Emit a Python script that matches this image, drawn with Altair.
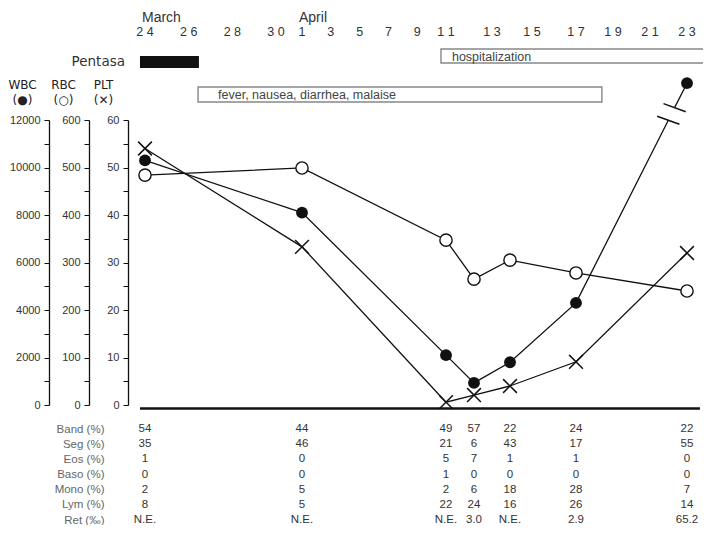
import altair as alt
import pandas as pd

FONT = "Liberation Sans"
FONT2 = "DejaVu Sans"
INK = "#111111"

# ---- data (x = days since March 24) ----
sample_days = [0, 8, 18, 19, 21, 24, 30]
wbc = [10300, 8100, 2100, 930, 1800, 4300]          # WBC /uL (first six samples)
wbc_last_plotted = 13550                             # last WBC, drawn above the axis break
rbc = [484, 499, 347, 265, 305, 278, 240]            # RBC x10^4
plt_vals = [54, 33.3, 0.6, 2.1, 4.0, 9.1, 32]        # PLT x10^4
wbc_break_days = [28.99, 29.33]
wbc_break_vals = [11990, 12520]

table_rows = ["Band (%)", "Seg (%)", "Eos (%)", "Baso (%)", "Mono (%)", "Lym (%)", "Ret (‰)"]
band = ["54", "44", "49", "57", "22", "24", "22"]
seg = ["35", "46", "21", "6", "43", "17", "55"]
eos = ["1", "0", "5", "7", "1", "1", "0"]
baso = ["0", "0", "1", "0", "0", "0", "0"]
mono = ["2", "5", "2", "6", "18", "28", "7"]
lym = ["8", "5", "22", "24", "16", "26", "14"]
ret = ["N.E.", "N.E.", "N.E.", "3.0", "N.E.", "2.9", "65.2"]

date_ticks = list(range(0, 31, 2))
date_labels = ["24", "26", "28", "30", "1", "3", "5", "7", "9", "11", "13", "15", "17", "19", "21", "23"]
months = ["March", "April"]
month_days = [0, 8]

pentasa = [-0.23, 2.47]
hospitalization = [17.65, 32]
symptoms = [2.43, 25.4]
baseline = [-0.23, 30.7]

# ---- scales (the date axis of the figure is not uniform) ----
X = alt.Scale(domain=[0, 6, 8, 18, 19, 21, 24, 30],
              range=[17, 148, 174, 318, 346, 382, 448, 559], nice=False)
YR = [397, 112]
S_WBC = alt.Scale(domain=[0, 12000], range=YR, nice=False, zero=False)
S_RBC = alt.Scale(domain=[0, 600], range=YR, nice=False, zero=False)
S_PLT = alt.Scale(domain=[0, 60], range=YR, nice=False, zero=False)


def xq(field):
    return alt.X(field, type="quantitative", scale=X, axis=None)


def val_axis(offset, top, step, label_step, title, title_x):
    return alt.Axis(
        orient="left", offset=offset, grid=False,
        values=list(range(0, top + 1, step)),
        labelExpr=f"datum.value % {label_step} === 0 ? datum.label : ''",
        format="d", domainColor=INK, domainWidth=1.3, tickColor=INK, tickWidth=1,
        tickSize=5, labelPadding=4, labelFontSize=11, labelColor="#333", labelFont=FONT,
        title=title, titleAngle=0, titleAlign="center", titleBaseline="top",
        titleX=title_x, titleY=71, titleFontSize=12, titleFontWeight="normal",
        titleFont=FONT2, titleColor="#222", titleLineHeight=15,
    )


# ---- WBC ----
wbc_line_df = pd.DataFrame({
    "day": sample_days[:6] + [wbc_break_days[0]] + [wbc_break_days[1], sample_days[6]],
    "val": wbc + [wbc_break_vals[0]] + [wbc_break_vals[1], wbc_last_plotted],
    "seg": ["a"] * 7 + ["b"] * 2,
})
wbc_pts_df = pd.DataFrame({"day": sample_days, "val": wbc + [wbc_last_plotted]})
wbc_break_df = pd.DataFrame({"day": wbc_break_days, "val": wbc_break_vals})

wbc_line = alt.Chart(wbc_line_df).mark_line(color=INK, strokeWidth=1.3).encode(
    x=xq("day"), y=alt.Y("val:Q", scale=S_WBC, axis=None), detail="seg:N")
wbc_break = alt.Chart(wbc_break_df).mark_point(
    shape="M-1,0L1,0", size=560, angle=20, strokeWidth=1.5, color=INK, opacity=1).encode(
    x=xq("day"), y=alt.Y("val:Q", scale=S_WBC, axis=None))
wbc_pts = alt.Chart(wbc_pts_df).mark_point(
    shape="circle", filled=True, size=140, color=INK, opacity=1).encode(
    x=xq("day"), y=alt.Y("val:Q", scale=S_WBC,
                         axis=val_axis(79, 12000, 1000, 2000, ["WBC", "(●)"], -27)))

# ---- RBC ----
rbc_df = pd.DataFrame({"day": sample_days, "val": rbc})
rbc_line = alt.Chart(rbc_df).mark_line(color=INK, strokeWidth=1.3).encode(
    x=xq("day"), y=alt.Y("val:Q", scale=S_RBC, axis=None))
rbc_pts = alt.Chart(rbc_df).mark_point(
    shape="circle", filled=True, fill="white", stroke=INK, strokeWidth=1.4,
    size=150, opacity=1).encode(
    x=xq("day"), y=alt.Y("val:Q", scale=S_RBC,
                         axis=val_axis(39, 600, 50, 100, ["RBC", "(○)"], -26)))

# ---- PLT ----
plt_df = pd.DataFrame({"day": sample_days, "val": plt_vals})
plt_line = alt.Chart(plt_df).mark_line(color=INK, strokeWidth=1.3).encode(
    x=xq("day"), y=alt.Y("val:Q", scale=S_PLT, axis=None))
plt_pts = alt.Chart(plt_df).mark_point(
    shape="M-1,-1L1,1M1,-1L-1,1", size=190, strokeWidth=1.5, color=INK,
    filled=False, opacity=1).encode(
    x=xq("day"), y=alt.Y("val:Q", scale=S_PLT,
                         axis=val_axis(0, 60, 5, 10, ["PLT", "(✕)"], -25)))

# ---- baseline ----
base_df = pd.DataFrame({"x": [baseline[0]], "x2": [baseline[1]], "y": [0]})
base_rule = alt.Chart(base_df).mark_rule(color=INK, strokeWidth=2.6, yOffset=3.5).encode(
    x=xq("x"), x2="x2", y=alt.Y("y:Q", scale=S_WBC, axis=None))

# ---- table ----
cols = [band, seg, eos, baso, mono, lym, ret]
tab = []
for r, vals in zip(table_rows, cols):
    for d, v in zip(sample_days, vals):
        tab.append({"row": r, "day": d, "t": v})
tab_df = pd.DataFrame(tab)
table = alt.Chart(tab_df).mark_text(font=FONT, fontSize=11.5, color="#333").encode(
    x=xq("day"),
    y=alt.Y("row:N", sort=table_rows,
            scale=alt.Scale(type="point", domain=table_rows, range=[421, 512], padding=0),
            axis=alt.Axis(orient="left", offset=24, domain=False, ticks=False, tickSize=0,
                          labelPadding=0, labelFontSize=11.5, labelColor="#666",
                          labelFont=FONT, title=None, grid=False)),
    text="t:N")

# ---- header ----
month_df = pd.DataFrame({"day": month_days, "t": months})
month_txt = alt.Chart(month_df).mark_text(
    font=FONT, fontSize=14, color="#333", align="left", dx=-3).encode(
    x=xq("day"), y=alt.value(10), text="t:N")

date_df = pd.DataFrame({"day": date_ticks, "t": [" ".join(s) for s in date_labels]})
date_txt = alt.Chart(date_df).mark_text(
    font=FONT, fontSize=12.5, color="#333", align="center").encode(
    x=xq("day"), y=alt.value(24), text="t:N")

pent_df = pd.DataFrame({"s": [pentasa[0]], "e": [pentasa[1]], "t": ["Pentasa"]})
pent_bar = alt.Chart(pent_df).mark_rect(color=INK).encode(
    x=xq("s"), x2="e", y=alt.value(48), y2=alt.value(60))
pent_txt = alt.Chart(pent_df).mark_text(
    font=FONT2, fontSize=13.5, color="#333", align="right", dx=-15).encode(
    x=xq("s"), y=alt.value(54), text="t:N")

hosp_df = pd.DataFrame({"s": [hospitalization[0]], "e": [hospitalization[1]], "t": ["hospitalization"]})
hosp_box = alt.Chart(hosp_df).mark_rect(fill="white", stroke="#888", strokeWidth=1.4).encode(
    x=xq("s"), x2="e", y=alt.value(41), y2=alt.value(55))
hosp_txt = alt.Chart(hosp_df).mark_text(
    font=FONT, fontSize=12.5, color="#444", align="left", dx=11).encode(
    x=xq("s"), y=alt.value(48.5), text="t:N")

sym_df = pd.DataFrame({"s": [symptoms[0]], "e": [symptoms[1]],
                       "t": ["fever, nausea, diarrhea, malaise"]})
sym_box = alt.Chart(sym_df).mark_rect(fill="white", stroke="#888", strokeWidth=1.4).encode(
    x=xq("s"), x2="e", y=alt.value(79), y2=alt.value(94))
sym_txt = alt.Chart(sym_df).mark_text(
    font=FONT, fontSize=12.5, color="#444", align="left", dx=20).encode(
    x=xq("s"), y=alt.value(86.5), text="t:N")

chart = alt.layer(
    hosp_box, hosp_txt, sym_box, sym_txt, pent_bar, pent_txt, month_txt, date_txt,
    base_rule,
    rbc_line, plt_line, wbc_line, wbc_break,
    rbc_pts, plt_pts, wbc_pts,
    table,
).resolve_scale(y="independent").properties(
    width=575, height=517,
    autosize=alt.AutoSizeParams(type="none"),
    padding={"left": 120, "top": 0, "right": 0, "bottom": 0},
    background="white",
).configure_view(stroke=None)

chart.save("out.html", embed_options={"renderer": "svg", "actions": False})
